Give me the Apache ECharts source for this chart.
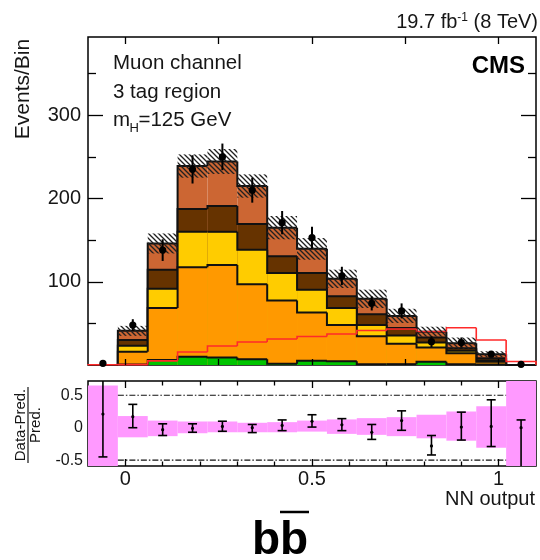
<!DOCTYPE html>
<html>
<head>
<meta charset="utf-8">
<script src="https://cdn.jsdelivr.net/npm/echarts@6/dist/echarts.min.js"></script>
<style>
  html, body { margin: 0; padding: 0; background: #fff; }
  #c { width: 540px; height: 560px; }
</style>
</head>
<body>
<div id="c"></div>
<script>
// NN output binning; first and last bins hold under/overflow
const binEdges = [-0.1, -0.02, 0.06, 0.14, 0.22, 0.30, 0.38, 0.46, 0.54, 0.62, 0.70, 0.78, 0.86, 0.94, 1.02, 1.10];

// Background contributions per bin, stacked bottom to top
const bkgGreen     = [0, 0.5, 6, 10, 9, 7, 1.5, 5, 4.5, 1, 1, 4, 1, 0.5, 0];
const bkgOrange    = [0, 15.5, 62.5, 107.5, 111, 90, 76, 58, 43.5, 33.5, 24.5, 17, 13, 3.5, 0];
const bkgYellow    = [0, 7, 23, 42.5, 40, 41.5, 33, 27.5, 20.5, 13.5, 10, 6, 3, 1.5, 0];
const bkgDarkBrown = [0, 7, 23, 27.5, 31, 31, 20, 20, 14, 13, 9, 6, 3, 2.5, 0];
const bkgBrown     = [0, 11, 31.5, 51.5, 53.5, 45.5, 34.5, 29, 21, 18.5, 14.5, 7, 6, 5, 0];
// Half-width of the hatched background uncertainty
const bkgUnc       = [0, 6, 12, 14, 15, 14, 14, 13, 11, 11, 8.5, 6, 7, 3.5, 0];

// Signal template (unstacked, red outline)
const signal = [0.3, 0.5, 5, 15.6, 22.8, 27.6, 31.2, 34.2, 37.2, 41.4, 43.2, 40.2, 44.8, 30, 4.2];

// Observed data and its uncertainty
const dataCounts = [2, 48, 138, 235, 250, 210, 171, 153, 107, 74, 65, 28, 27, 13, 0.8];
const dataErr    = [1.5, 7, 13, 17, 16, 15, 14, 13, 11, 8.5, 9, 6.5, 6, 3.5, 1];

// Lower panel: (data - pred) / pred with errors, and the prediction band
const ratioVals     = [0.21, 0.17, -0.03, -0.01, 0.02, 0, 0.035, 0.1, 0.045, -0.07, 0.11, -0.28, 0.01, 0.02, 0];
const ratioErrUp    = [0.9, 0.19, 0.09, 0.07, 0.08, 0.05, 0.085, 0.1, 0.095, 0.12, 0.15, 0.16, 0.23, 0.41, 0.12];
const ratioErrDown  = [0.66, 0.17, 0.09, 0.06, 0.075, 0.075, 0.08, 0.09, 0.09, 0.11, 0.15, 0.14, 0.2, 0.31, 1.0];
const ratioBandUp   = [0.65, 0.18, 0.11, 0.096, 0.096, 0.076, 0.086, 0.11, 0.128, 0.148, 0.163, 0.2, 0.25, 0.33, 1.0];
const ratioBandDown = [-0.65, -0.148, -0.13, -0.085, -0.07, -0.07, -0.07, -0.06, -0.095, -0.11, -0.13, -0.163, -0.2, -0.31, -1.0];
const ratioRefLines = [0.5, -0.5];
const refLineSpan = [-0.02, 1.02];

// Axis ticks and labels
const mainXTicks  = [0, 0.25, 0.5, 0.75, 1];
const mainYMajor  = [100, 200, 300];
const mainYMinor  = [50, 150, 250, 350];
const ratioXMajor = [0, 0.5, 1];
const ratioXMinor = [0.1, 0.2, 0.3, 0.4, 0.6, 0.7, 0.8, 0.9];
const ratioYTicks = [-0.5, 0, 0.5];

const X_MIN = -0.1, X_MAX = 1.1;
const Y_MAX = 394;
const R_MIN = -0.59, R_MAX = 0.72;

const FONT = 'Liberation Sans, Arial, Helvetica, sans-serif';
const TXT = '#161616';

const nBins = binEdges.length - 1;
const binCenter = i => (binEdges[i] + binEdges[i + 1]) / 2;

// cumulative stack levels, bottom component first
const stackLayers = [bkgGreen, bkgOrange, bkgYellow, bkgDarkBrown, bkgBrown];
const layerColors = ['#00c400', '#ff9900', '#ffcc00', '#663300', '#cc6633'];
const cumulative = [];
let running = new Array(nBins).fill(0);
stackLayers.forEach(layer => {
  running = running.map((v, i) => v + layer[i]);
  cumulative.push(running.slice());
});
const totalPred = cumulative[cumulative.length - 1];

// diagonal hatch used for the background uncertainty
function makeHatch() {
  const s = 5;
  const c = document.createElement('canvas');
  c.width = s; c.height = s;
  const g = c.getContext('2d');
  g.strokeStyle = '#202020';
  g.lineWidth = 1.3;
  g.beginPath();
  g.moveTo(-1, -1); g.lineTo(s + 1, s + 1);
  g.moveTo(-1, s - 1); g.lineTo(1, s + 1);
  g.moveTo(s - 1, -1); g.lineTo(s + 1, 1);
  g.stroke();
  return c;
}
const hatchFill = { image: makeHatch(), repeat: 'repeat' };

// histogram drawn ROOT-style: filled from zero, step outline on top
function stepHist(levels, fill, stroke, lw, z) {
  return {
    type: 'custom', xAxisIndex: 0, yAxisIndex: 0, z, silent: true,
    data: levels.map((v, i) => [binCenter(i), v, i > 0 ? levels[i - 1] : 0, i]),
    renderItem(params, api) {
      const i = api.value(3);
      const base = api.coord([binEdges[i], 0]);
      const top = api.coord([binEdges[i + 1], api.value(1)]);
      const prev = api.coord([binEdges[i], api.value(2)]);
      const children = [];
      if (fill) {
        children.push({
          type: 'rect',
          shape: { x: base[0], y: top[1], width: top[0] - base[0], height: base[1] - top[1] },
          style: { fill }
        });
      }
      const pts = [[base[0], prev[1]], [base[0], top[1]], [top[0], top[1]]];
      if (i === nBins - 1) pts.push([top[0], base[1]]);
      children.push({ type: 'polyline', shape: { points: pts }, style: { stroke, lineWidth: lw, fill: null } });
      return { type: 'group', children };
    }
  };
}

const series = [];
let zc = 2;
for (let k = cumulative.length - 1; k >= 0; k--) {
  series.push(stepHist(cumulative[k], layerColors[k], '#111', 2, zc++));
}
series.push(stepHist(signal, null, '#ff2a2a', 1.6, zc++));

// hatched uncertainty around the total prediction
series.push({
  type: 'custom', xAxisIndex: 0, yAxisIndex: 0, z: zc++, silent: true,
  data: totalPred.map((v, i) => [binCenter(i), v, bkgUnc[i], i]),
  renderItem(params, api) {
    const i = api.value(3), v = api.value(1), u = api.value(2);
    if (u <= 0) return null;
    const a = api.coord([binEdges[i], v + u]);
    const b = api.coord([binEdges[i + 1], v - u]);
    return { type: 'rect', shape: { x: a[0], y: a[1], width: b[0] - a[0], height: b[1] - a[1] }, style: { fill: hatchFill } };
  }
});

// observed data points
series.push({
  type: 'custom', xAxisIndex: 0, yAxisIndex: 0, z: zc++, silent: true,
  data: dataCounts.map((v, i) => [binCenter(i), v, dataErr[i]]),
  renderItem(params, api) {
    const x = api.value(0), v = api.value(1), e = api.value(2);
    const p = api.coord([x, v]);
    const hi = api.coord([x, v + e]);
    const lo = api.coord([x, Math.max(0, v - e)]);
    return {
      type: 'group',
      children: [
        { type: 'line', shape: { x1: p[0], y1: hi[1], x2: p[0], y2: lo[1] }, style: { stroke: '#000', lineWidth: 2 } },
        { type: 'circle', shape: { cx: p[0], cy: p[1], r: 3.6 }, style: { fill: '#000' } }
      ]
    };
  }
});

// ---- lower panel ----
const clampR = v => Math.max(R_MIN, Math.min(R_MAX, v));

series.push({
  type: 'custom', xAxisIndex: 2, yAxisIndex: 4, z: 2, silent: true,
  data: ratioBandUp.map((v, i) => [binCenter(i), v, ratioBandDown[i], i]),
  renderItem(params, api) {
    const i = api.value(3);
    const a = api.coord([binEdges[i], clampR(api.value(1))]);
    const b = api.coord([binEdges[i + 1], clampR(api.value(2))]);
    return { type: 'rect', shape: { x: a[0], y: a[1], width: b[0] - a[0], height: b[1] - a[1] }, style: { fill: '#ff99ff' } };
  }
});

series.push({
  type: 'custom', xAxisIndex: 2, yAxisIndex: 4, z: 3, silent: true,
  data: ratioRefLines.map(v => [refLineSpan[0], v]),
  renderItem(params, api) {
    const a = api.coord([refLineSpan[0], api.value(1)]);
    const b = api.coord([refLineSpan[1], api.value(1)]);
    return { type: 'line', shape: { x1: a[0], y1: a[1], x2: b[0], y2: b[1] },
      style: { stroke: '#111', lineWidth: 1.2, lineDash: [6, 2, 1.5, 2] } };
  }
});

series.push({
  type: 'custom', xAxisIndex: 2, yAxisIndex: 4, z: 4, silent: true,
  data: ratioVals.map((v, i) => [binCenter(i), v, ratioErrUp[i], ratioErrDown[i]]),
  renderItem(params, api) {
    const x = api.value(0), v = api.value(1);
    const up = v + api.value(2), dn = v - api.value(3);
    const p = api.coord([x, v]);
    const hi = api.coord([x, clampR(up)]);
    const lo = api.coord([x, clampR(dn)]);
    const cw = 4.5;
    const children = [
      { type: 'line', shape: { x1: p[0], y1: hi[1], x2: p[0], y2: lo[1] }, style: { stroke: '#000', lineWidth: 1.6 } },
      { type: 'circle', shape: { cx: p[0], cy: p[1], r: 1.6 }, style: { fill: '#000' } }
    ];
    if (up <= R_MAX) children.push({ type: 'line', shape: { x1: p[0] - cw, y1: hi[1], x2: p[0] + cw, y2: hi[1] }, style: { stroke: '#000', lineWidth: 1.6 } });
    if (dn >= R_MIN) children.push({ type: 'line', shape: { x1: p[0] - cw, y1: lo[1], x2: p[0] + cw, y2: lo[1] }, style: { stroke: '#000', lineWidth: 1.6 } });
    return { type: 'group', children };
  }
});

function xAx(gridIndex, position, ticks, len, labels) {
  return {
    type: 'value', gridIndex, position, min: X_MIN, max: X_MAX, z: 20,
    axisLine: { show: false, onZero: false }, splitLine: { show: false },
    axisTick: { show: true, inside: true, length: len, customValues: ticks, lineStyle: { color: '#000', width: 1.3 } },
    axisLabel: labels ? {
      show: true, customValues: labels, margin: 3, fontSize: 20, fontFamily: FONT, color: TXT,
      formatter: v => String(v)
    } : { show: false }
  };
}
function yAx(gridIndex, position, min, max, ticks, len, labels, fs, margin, z) {
  return {
    type: 'value', gridIndex, position, min, max, z,
    axisLine: { show: false, onZero: false }, splitLine: { show: false },
    axisTick: { show: true, inside: true, length: len, customValues: ticks, lineStyle: { color: '#000', width: 1.3 } },
    axisLabel: labels ? {
      show: true, customValues: labels, margin, fontSize: fs, fontFamily: FONT, color: TXT,
      formatter: v => String(v)
    } : { show: false }
  };
}

const option = {
  animation: false,
  backgroundColor: '#fff',
  grid: [
    { left: 88, right: 4, top: 37, height: 328, show: true, borderColor: '#000', borderWidth: 1.5, backgroundColor: 'transparent', outerBoundsMode: 'none' },
    { left: 88, right: 4, top: 381, height: 85, show: true, borderColor: '#000', borderWidth: 1.5, backgroundColor: 'transparent', outerBoundsMode: 'none' }
  ],
  xAxis: [
    xAx(0, 'bottom', mainXTicks, 6, null),
    xAx(0, 'top', mainXTicks, 7, null),
    xAx(1, 'bottom', ratioXMajor, 7, ratioXMajor),
    xAx(1, 'bottom', ratioXMinor, 4.5, null),
    xAx(1, 'top', ratioXMajor, 7, null),
    xAx(1, 'top', ratioXMinor, 4.5, null)
  ],
  yAxis: [
    yAx(0, 'left', 0, Y_MAX, mainYMajor, 15, mainYMajor, 20, 7, 20),
    yAx(0, 'left', 0, Y_MAX, mainYMinor, 8, null, 20, 7, 20),
    yAx(0, 'right', 0, Y_MAX, mainYMajor, 15, null, 20, 7, 20),
    yAx(0, 'right', 0, Y_MAX, mainYMinor, 8, null, 20, 7, 20),
    yAx(1, 'left', R_MIN, R_MAX, ratioYTicks, 8, ratioYTicks, 16, 5, 0)
  ],
  series,
  graphic: [
    { type: 'text', x: 538, y: 22, silent: true,
      style: { text: '{n|19.7 fb}{s|-1}{n| (8 TeV)}', align: 'right', verticalAlign: 'middle', fill: TXT,
        rich: { n: { fontSize: 20, fontFamily: FONT, fill: TXT }, s: { fontSize: 12, fontFamily: FONT, fill: TXT, padding: [0, 0, 9, 0] } } } },
    { type: 'text', x: 525, y: 66, silent: true,
      style: { text: 'CMS', align: 'right', verticalAlign: 'middle', fontSize: 24, fontWeight: 'bold', fontFamily: FONT, fill: '#000' } },
    { type: 'text', x: 113, y: 63, silent: true,
      style: { text: 'Muon channel', align: 'left', verticalAlign: 'middle', fontSize: 20.5, fontFamily: FONT, fill: TXT } },
    { type: 'text', x: 113, y: 92, silent: true,
      style: { text: '3 tag region', align: 'left', verticalAlign: 'middle', fontSize: 20.5, fontFamily: FONT, fill: TXT } },
    { type: 'text', x: 113, y: 120, silent: true,
      style: { text: 'm', align: 'left', verticalAlign: 'middle', fontSize: 20.5, fontFamily: FONT, fill: TXT } },
    { type: 'text', x: 129.5, y: 128, silent: true,
      style: { text: 'H', align: 'left', verticalAlign: 'middle', fontSize: 13, fontFamily: FONT, fill: TXT } },
    { type: 'text', x: 138.5, y: 120, silent: true,
      style: { text: '=125 GeV', align: 'left', verticalAlign: 'middle', fontSize: 20.5, fontFamily: FONT, fill: TXT } },
    { type: 'text', x: 23, y: 89, rotation: Math.PI / 2, silent: true,
      style: { text: 'Events/Bin', align: 'center', verticalAlign: 'middle', fontSize: 21, fontFamily: FONT, fill: TXT } },
    { type: 'group', x: 28, y: 425, rotation: Math.PI / 2, silent: true,
      children: [
        { type: 'text', x: 0, y: -7, style: { text: 'Data-Pred.', align: 'center', verticalAlign: 'middle', fontSize: 15, fontFamily: FONT, fill: TXT } },
        { type: 'line', shape: { x1: -38, y1: 0, x2: 38, y2: 0 }, style: { stroke: TXT, lineWidth: 1.2 } },
        { type: 'text', x: 0, y: 8, style: { text: 'Pred.', align: 'center', verticalAlign: 'middle', fontSize: 15, fontFamily: FONT, fill: TXT } }
      ] },
    { type: 'text', x: 535, y: 499, silent: true,
      style: { text: 'NN output', align: 'right', verticalAlign: 'middle', fontSize: 20, fontFamily: FONT, fill: TXT } },
    { type: 'text', x: 280, y: 564, silent: true,
      style: { text: 'bb', align: 'center', verticalAlign: 'bottom', fontSize: 46, fontWeight: 'bold', fontFamily: FONT, fill: '#000' } },
    { type: 'line', silent: true, shape: { x1: 280, y1: 512, x2: 309, y2: 512 }, style: { stroke: '#000', lineWidth: 2.5 } }
  ]
};

const chart = echarts.init(document.getElementById('c'), null, { renderer: 'canvas' });
chart.setOption(option);
</script>
</body>
</html>
